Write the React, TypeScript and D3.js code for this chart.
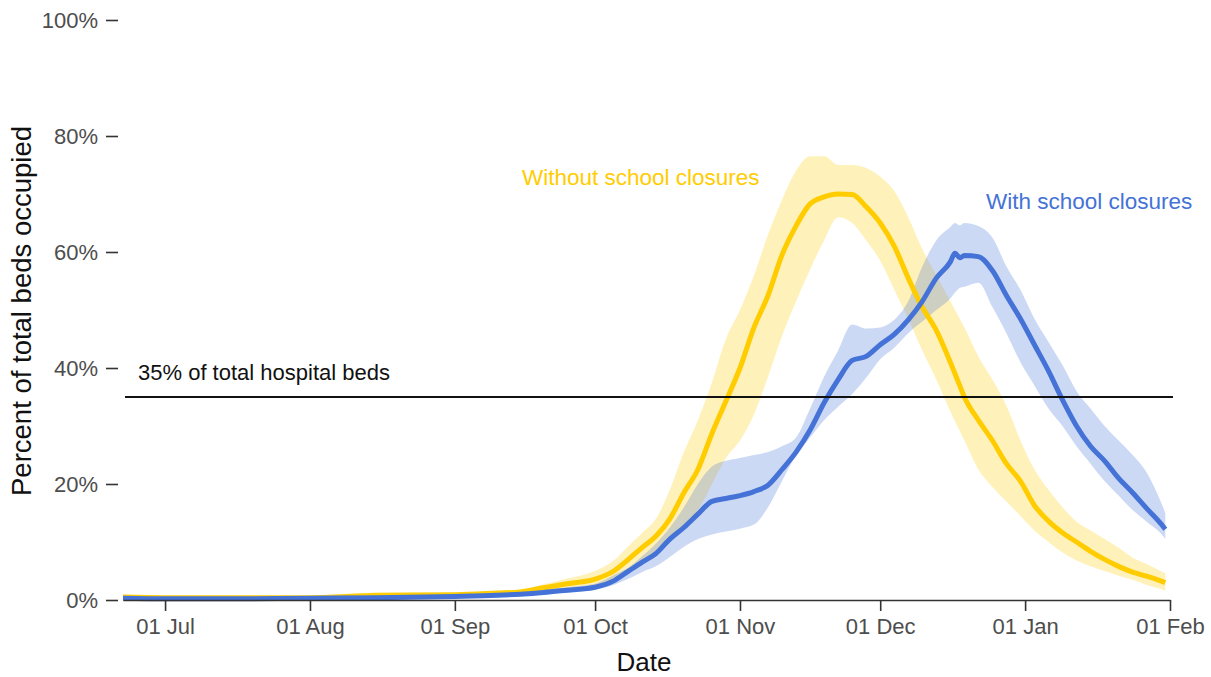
import React, { useEffect, useRef } from "react";
import * as d3 from "d3";

const dates = [
  "2020-06-22", "2020-07-01", "2020-07-15", "2020-08-01", "2020-08-15", "2020-09-01", "2020-09-10", "2020-09-15", "2020-09-20", "2020-09-25",
  "2020-10-01", "2020-10-05", "2020-10-08", "2020-10-11", "2020-10-14", "2020-10-17", "2020-10-20", "2020-10-23", "2020-10-26", "2020-10-29",
  "2020-11-01", "2020-11-04", "2020-11-07", "2020-11-10", "2020-11-13", "2020-11-16", "2020-11-19", "2020-11-22", "2020-11-25", "2020-11-28",
  "2020-12-01", "2020-12-04", "2020-12-07", "2020-12-10", "2020-12-13", "2020-12-16", "2020-12-17", "2020-12-18", "2020-12-19", "2020-12-22",
  "2020-12-25", "2020-12-28", "2020-12-31", "2021-01-03", "2021-01-06", "2021-01-09", "2021-01-12", "2021-01-15", "2021-01-18", "2021-01-21",
  "2021-01-24", "2021-01-27", "2021-01-30", "2021-01-31",
];

// Without school closures (percent of beds)
const withoutMid = [
  0.5, 0.4, 0.4, 0.4, 0.8, 0.9, 1.2, 1.4, 2.1, 2.8,
  3.6, 5.0, 6.9, 9.0, 11.0, 14.0, 18.5, 22.5, 28.7, 34.3,
  40.0, 47.0, 52.5, 59.5, 64.5, 68.3, 69.5, 70.0, 69.9, 67.8,
  65.0, 61.0, 55.5, 50.5, 46.5, 41.0, 39.0, 37.0, 35.0, 31.0,
  27.5, 23.5, 20.5, 16.3, 13.6, 11.6, 10.0, 8.4, 7.0, 5.8,
  4.8, 4.1, 3.3, 3.0,
];
const withoutHi = [
  0.8, 0.7, 0.7, 0.7, 1.1, 1.2, 1.6, 1.8, 2.7, 3.7,
  5.0, 6.8, 9.2, 11.5, 14.0, 19.0, 25.5, 31.0, 37.5, 45.0,
  50.0, 56.0, 63.0, 69.0, 74.0, 76.5, 76.5, 75.0, 75.0, 74.5,
  73.0, 70.5, 66.0, 60.5, 56.0, 51.5, 50.0, 48.5, 47.0, 42.0,
  38.0, 33.5, 27.5, 22.5, 19.0, 16.0, 13.5, 12.0, 10.5, 9.0,
  7.3, 6.2, 5.0, 4.6,
];
const withoutLo = [
  0.3, 0.2, 0.2, 0.2, 0.5, 0.6, 0.8, 1.0, 1.5, 2.0,
  2.5, 3.5, 4.7, 6.0, 8.0, 10.2, 13.0, 15.5, 20.0, 24.5,
  27.5, 32.0, 38.5, 45.5, 51.5, 57.0, 62.0, 66.0, 65.0, 62.0,
  58.5, 53.5, 48.5, 43.0, 38.0, 32.5, 30.8, 29.2, 27.5, 22.5,
  19.5, 17.0, 14.5, 12.0, 10.0, 8.2, 6.8, 5.8, 5.0, 4.2,
  3.5, 2.6, 1.9, 1.6,
];

// With school closures
const withMid = [
  0.3, 0.2, 0.2, 0.3, 0.4, 0.6, 0.8, 1.0, 1.3, 1.7,
  2.2, 3.3, 4.9, 6.5, 8.0, 10.5, 12.5, 14.8, 17.0, 17.5,
  18.0, 18.7, 19.8, 22.5, 25.5, 29.3, 34.0, 38.0, 41.3, 42.0,
  44.0, 45.8, 48.3, 51.5, 55.5, 58.3, 59.8, 59.0, 59.4, 59.2,
  56.8, 52.5, 48.5, 44.0, 39.5, 34.5, 30.0, 26.5, 24.0, 21.0,
  18.5, 15.8, 13.2, 12.2,
];
const withHi = [
  0.5, 0.4, 0.4, 0.5, 0.6, 0.9, 1.1, 1.3, 1.7, 2.2,
  2.8, 4.3, 5.5, 7.5, 9.7, 12.5, 16.0, 20.0, 23.0, 24.0,
  24.5, 25.0, 25.5, 26.5, 28.0, 33.0, 38.5, 43.0, 47.5, 46.8,
  47.0, 48.3, 51.5, 57.5, 62.0, 64.3, 65.0, 64.6, 65.0, 64.5,
  62.5, 57.5, 53.5, 48.5, 44.5, 40.5, 36.0, 33.0, 30.0, 27.5,
  25.0, 22.0, 17.0, 15.0,
];
const withLo = [
  0.1, 0.1, 0.1, 0.1, 0.2, 0.4, 0.5, 0.7, 1.0, 1.3,
  1.8, 2.6, 3.6, 4.8, 5.8, 7.4, 9.2, 10.5, 11.3, 11.8,
  12.3, 13.0, 16.0, 20.5, 25.0, 28.0, 31.0, 33.3, 35.5, 38.3,
  41.5, 43.5, 46.0, 48.0, 50.0, 52.0, 53.0, 53.8, 54.0, 54.7,
  50.5, 46.0, 41.0, 37.0, 33.0, 30.0, 26.5, 23.5, 20.5, 18.0,
  15.5, 13.5, 11.5, 10.5,
];

const yTicks = [0, 20, 40, 60, 80, 100];
const threshold = 35;
const thresholdLabel = "35% of total hospital beds";
const seriesNames = ["Without school closures", "With school closures"];
const xTitle = "Date";
const yTitle = "Percent of total beds occupied";

const W = 1211;
const H = 677;
const YELLOW = "#FFCC00";
const BLUE = "#4472D6";
const FONT = "'Liberation Sans', Arial, sans-serif";

export default function App() {
  const ref = useRef<SVGSVGElement>(null);

  useEffect(() => {
    document.body.style.margin = "0";
    const svg = d3.select(ref.current);
    svg.selectAll("*").remove();

    const parse = d3.utcParse("%Y-%m-%d");
    const t = dates.map((d) => parse(d) as Date);
    const x = d3
      .scaleUtc()
      .domain([parse("2020-06-22") as Date, parse("2021-02-01") as Date])
      .range([123, 1170]);
    const y = d3.scaleLinear().domain([0, 100]).range([600, 20]);

    const rows = (mid: number[], lo: number[], hi: number[]) =>
      t.map((d, i) => ({ d, m: mid[i], lo: lo[i], hi: hi[i] }));
    const series = [
      { name: seriesNames[0], color: YELLOW, data: rows(withoutMid, withoutLo, withoutHi) },
      { name: seriesNames[1], color: BLUE, data: rows(withMid, withLo, withHi) },
    ];

    const area = d3
      .area<any>()
      .x((r) => x(r.d))
      .y0((r) => y(r.lo))
      .y1((r) => y(r.hi))
      .curve(d3.curveMonotoneX);
    const line = d3
      .line<any>()
      .x((r) => x(r.d))
      .y((r) => y(r.m))
      .curve(d3.curveMonotoneX);

    const g = svg.append("g");
    series.forEach((s) => {
      g.append("path").attr("d", area(s.data)).attr("fill", s.color).attr("fill-opacity", 0.27);
    });
    series.forEach((s) => {
      g.append("path")
        .attr("d", line(s.data))
        .attr("fill", "none")
        .attr("stroke", s.color)
        .attr("stroke-width", 5)
        .attr("stroke-linejoin", "round");
    });

    // threshold line
    g.append("line")
      .attr("x1", 125)
      .attr("x2", 1173)
      .attr("y1", y(threshold))
      .attr("y2", y(threshold))
      .attr("stroke", "#111")
      .attr("stroke-width", 2.2);
    g.append("text")
      .attr("x", 138)
      .attr("y", 380)
      .attr("font-family", FONT)
      .attr("font-size", 22)
      .attr("fill", "#111")
      .text(thresholdLabel);

    // x axis
    const xa = svg
      .append("g")
      .attr("transform", `translate(0,${y(0)})`)
      .call(
        d3
          .axisBottom(x)
          .ticks(d3.utcMonth.every(1))
          .tickFormat((d: any) => d3.utcFormat("%d %b")(d))
          .tickSize(11)
          .tickSizeOuter(0)
          .tickPadding(7)
      );
    xa.select(".domain").attr("stroke", "#333").attr("stroke-width", 1.6);
    xa.selectAll(".tick line").attr("stroke", "#333").attr("stroke-width", 1.6);
    xa.selectAll(".tick text").attr("font-family", FONT).attr("font-size", 22).attr("fill", "#4d4d4d");

    // y axis
    const ya = svg
      .append("g")
      .attr("transform", `translate(118,0)`)
      .call(
        d3
          .axisLeft(y)
          .tickValues(yTicks)
          .tickFormat((d: any) => `${d}%`)
          .tickSize(12)
          .tickPadding(8)
      );
    ya.select(".domain").remove();
    ya.selectAll(".tick line").attr("stroke", "#333").attr("stroke-width", 1.6);
    ya.selectAll(".tick text").attr("font-family", FONT).attr("font-size", 22).attr("fill", "#4d4d4d");

    // titles
    svg
      .append("text")
      .attr("x", 644)
      .attr("y", 671)
      .attr("text-anchor", "middle")
      .attr("font-family", FONT)
      .attr("font-size", 26)
      .attr("fill", "#111")
      .text(xTitle);
    svg
      .append("text")
      .attr("transform", `translate(31,311) rotate(-90)`)
      .attr("text-anchor", "middle")
      .attr("font-family", FONT)
      .attr("font-size", 27.5)
      .attr("fill", "#111")
      .text(yTitle);

    // series labels
    svg
      .append("text")
      .attr("x", 522)
      .attr("y", 185)
      .attr("font-family", FONT)
      .attr("font-size", 22.5)
      .attr("fill", YELLOW)
      .text(seriesNames[0]);
    svg
      .append("text")
      .attr("x", 986)
      .attr("y", 209)
      .attr("font-family", FONT)
      .attr("font-size", 22.5)
      .attr("fill", BLUE)
      .text(seriesNames[1]);
  }, []);

  return <svg ref={ref} width={W} height={H} style={{ display: "block", background: "#fff" }} />;
}
